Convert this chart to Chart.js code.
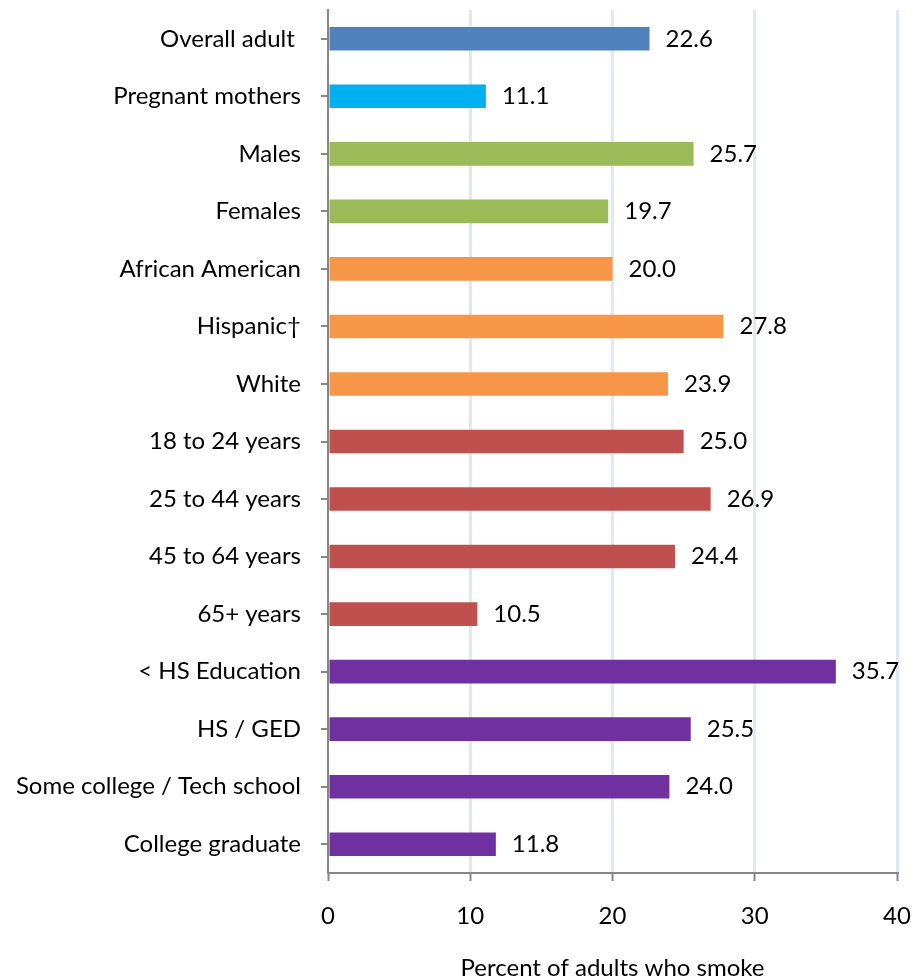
<!DOCTYPE html>
<html>
<head>
<meta charset="utf-8">
<script src="https://cdn.jsdelivr.net/npm/chart.js@4.4.1/dist/chart.umd.min.js"></script>
<style>
  html, body { margin: 0; padding: 0; background: #fff; }
  .chart-div { width: 913px; height: 978px; }
</style>
</head>
<body>
<div class="chart-div"><canvas id="myChart"></canvas></div>
<script>
const groups = [
  "Overall adult ",
  "Pregnant mothers",
  "Males",
  "Females",
  "African American",
  "Hispanic\u2020",
  "White",
  "18 to 24 years",
  "25 to 44 years",
  "45 to 64 years",
  "65+ years",
  "< HS Education",
  "HS / GED",
  "Some college / Tech school",
  "College graduate",
];
const smokers = [22.6, 11.1, 25.7, 19.7, 20.0, 27.8, 23.9, 25.0, 26.9, 24.4, 10.5, 35.7, 25.5, 24.0, 11.8];
const xTicks = [0, 10, 20, 30, 40];

const blue = "#4f81bd";
const cyan = "#00b0f0";
const green = "#9bbb59";
const orange = "#f79646";
const red = "#c0504d";
const purple = "#7030a0";
const barColors = [blue, cyan, green, green, orange, orange, orange, red, red, red, red, purple, purple, purple, purple];

const fontFamily = "Lato, 'Open Sans', sans-serif";
const axisGray = "#868686";

// value printed to the right of each bar
const valueLabels = {
  id: "valueLabels",
  afterDatasetsDraw(chart) {
    const c = chart.ctx;
    const meta = chart.getDatasetMeta(0);
    c.save();
    c.font = "24px " + fontFamily;
    c.fillStyle = "#000";
    c.textAlign = "left";
    c.textBaseline = "middle";
    meta.data.forEach((bar, i) => {
      c.fillText(smokers[i].toFixed(1), bar.x + 16, bar.y);
    });
    c.restore();
  },
};

// the tick labels shouldn't push the plot area around
function noLabelPadding(scale) {
  scale.paddingTop = 0;
  scale.paddingBottom = 0;
  scale.paddingLeft = 0;
  scale.paddingRight = 0;
}

const ctx = document.getElementById("myChart");
const myChart = new Chart(ctx, {
  type: "bar",
  data: {
    labels: groups,
    datasets: [
      {
        data: smokers,
        backgroundColor: barColors,
        barPercentage: 0.41,
        categoryPercentage: 1,
      },
    ],
  },
  options: {
    indexAxis: "y",
    responsive: true,
    maintainAspectRatio: false,
    animation: false,
    layout: { padding: { top: 10, right: 16, left: 0, bottom: 0 } },
    plugins: {
      legend: { display: false },
      tooltip: { enabled: false },
    },
    scales: {
      x: {
        min: 0,
        max: 40,
        afterBuildTicks: (scale) => {
          scale.ticks = xTicks.map((v) => ({ value: v }));
        },
        afterFit: (scale) => {
          scale.height = 105;
          noLabelPadding(scale);
        },
        grid: {
          color: (c) => (c.tick && c.tick.value === 0 ? "rgba(0,0,0,0)" : "#e1e8f4"),
          lineWidth: 3,
          tickColor: axisGray,
          tickWidth: 2,
          tickLength: 8,
        },
        border: { color: axisGray, width: 2 },
        ticks: {
          color: "#000",
          padding: 21,
          font: { family: fontFamily, size: 24 },
        },
        title: {
          display: true,
          text: "Percent of adults who smoke",
          color: "#000",
          padding: 0,
          font: { family: fontFamily, size: 24, lineHeight: 0.8 },
        },
      },
      y: {
        afterFit: (scale) => {
          scale.width = 328;
          noLabelPadding(scale);
        },
        grid: {
          offset: false,
          drawOnChartArea: false,
          color: axisGray,
          lineWidth: 2,
          tickLength: 7,
        },
        border: { color: axisGray, width: 2 },
        ticks: {
          color: "#000",
          padding: 20,
          autoSkip: false,
          font: { family: fontFamily, size: 24 },
        },
      },
    },
  },
  plugins: [valueLabels],
});
</script>
</body>
</html>
